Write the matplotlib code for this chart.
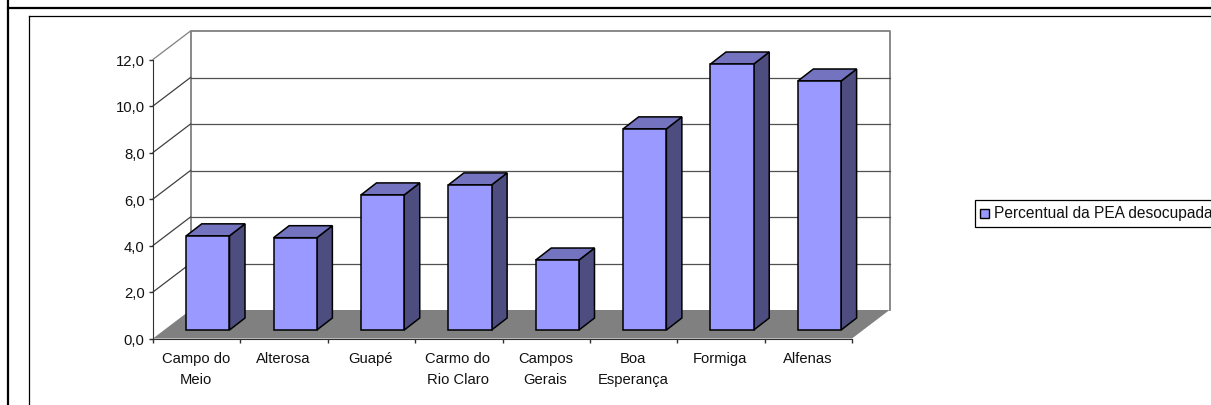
# Recreate the 3D style bar chart of unemployment percent by city
import matplotlib
matplotlib.use('Agg')
import matplotlib.pyplot as plt
from matplotlib.lines import Line2D
from matplotlib.patches import Rectangle

# Chart data
cities = ['Campo do\nMeio', 'Alterosa', 'Guapé', 'Carmo do\nRio Claro', 'Campos\nGerais',
          'Boa\nEsperança', 'Formiga', 'Alfenas']
percent = [4.05, 3.97, 5.81, 6.24, 3.01, 8.65, 11.44, 10.71]
y_ticks = [0, 2, 4, 6, 8, 10, 12]
series_name = 'Percentual da PEA desocupada'

# Colours
front_color = '#9999FF'
side_color = '#4D4D80'
top_color = '#7373BF'
floor_color = '#808080'
wall_color = '#808080'

W, H = 1211, 406
plt.rcParams['font.family'] = ['Liberation Sans', 'DejaVu Sans']
fig = plt.figure(figsize=(W / 100, H / 100), dpi=100)

# Axes placed so 0-8 and 0-12 land on the pixel positions of the front plane
left, right, bottom, top = 153, 852, 339.5, 60.5
ax = fig.add_axes([left / W, 1 - bottom / H, (right - left) / W, (bottom - top) / H])
ax.set_xlim(0, 8)
ax.set_ylim(0, 12)
ax.patch.set_visible(False)

# Depth of the box and of the bars, in data units
px_x = 8 / (right - left)
px_y = 12 / (bottom - top)
box_dx, box_dy = 37.5 * px_x, 28.5 * px_y
bar_dx, bar_dy = 15.5 * px_x, 12 * px_y
bar_shift_x, bar_shift_y = 11.4 * px_x, 8.5 * px_y
bar_width = 0.495

# Floor and back wall
ax.fill([0, 8, 8 + box_dx, box_dx], [0, 0, box_dy, box_dy], color=floor_color, lw=0, zorder=1, clip_on=False)
ax.plot([box_dx, box_dx, 8 + box_dx, 8 + box_dx], [box_dy, 12 + box_dy, 12 + box_dy, box_dy],
        color=wall_color, lw=1.3, zorder=2, clip_on=False)

# Gridlines on the side wall and the back wall
for t in y_ticks[1:]:
    ax.plot([0, box_dx], [t, t + box_dy], color='#404040' if t < 12 else wall_color, lw=0.9, zorder=2, clip_on=False)
    if t < 12:
        ax.plot([box_dx, 8 + box_dx], [t + box_dy, t + box_dy], color='#505050', lw=0.9, zorder=2, clip_on=False)

# Bars: front face through ax.bar, then the side and top faces
for i, value in enumerate(percent):
    x0 = i + 0.25 + bar_shift_x
    x1 = x0 + bar_width
    y0 = bar_shift_y
    y1 = y0 + value
    z = 3 + i
    ax.fill([x1, x1 + bar_dx, x1 + bar_dx, x1], [y0, y0 + bar_dy, y1 + bar_dy, y1],
            facecolor=side_color, edgecolor='black', lw=1.1, zorder=z, clip_on=False)
    ax.fill([x0, x1, x1 + bar_dx, x0 + bar_dx], [y1, y1, y1 + bar_dy, y1 + bar_dy],
            facecolor=top_color, edgecolor='black', lw=1.1, zorder=z, clip_on=False)
    ax.bar(x0, value, bottom=y0, width=bar_width, align='edge', color=front_color,
           edgecolor='black', lw=1.1, zorder=z, clip_on=False)

# Axis ticks and labels
ax.spines['top'].set_visible(False)
ax.spines['right'].set_visible(False)
ax.spines['left'].set_color('#303030')
ax.spines['bottom'].set_color('#303030')
ax.set_yticks(y_ticks)
ax.set_yticklabels([('%.1f' % t).replace('.', ',') for t in y_ticks])
ax.set_xticks(range(9))
ax.set_xticklabels([])
ax.set_xticks([i + 0.49 for i in range(8)], minor=True)
ax.set_xticklabels(cities, minor=True, linespacing=1.62)
ax.tick_params(axis='x', which='minor', length=0, labelsize=10.6, pad=9, colors='#111111')
ax.tick_params(axis='x', which='major', length=3, width=1, color='#303030')
ax.tick_params(axis='y', length=3, width=1, color='#303030', labelsize=10.7, pad=3, labelcolor='#111111')


# Helper to draw in image pixel positions
def px_line(x0, y0, x1, y1, lw):
    fig.add_artist(Line2D([x0 / W, x1 / W], [1 - y0 / H, 1 - y1 / H], color='black', lw=lw))


# Outer page frame and chart frame, both cut off by the image edge
px_line(8, 0, 8, H, 1.6)
px_line(8, 9, W, 9, 1.6)
px_line(29, 16.5, W, 16.5, 0.9)
px_line(29, 16.5, 29, H, 0.9)

# Legend box
fig.add_artist(Rectangle((974.5 / W, 1 - 228 / H), 300 / W, 27.5 / H, transform=fig.transFigure,
                         facecolor='white', edgecolor='black', lw=0.9))
fig.add_artist(Rectangle((980 / W, 1 - 219 / H), 8.5 / W, 9 / H, transform=fig.transFigure,
                         facecolor=front_color, edgecolor='black', lw=1))
fig.text(994.5 / W, 1 - 213.5 / H, series_name, fontsize=11.2, va='center', ha='left', color='#111111')

# Save the figure
fig.savefig('out.png', dpi=100, facecolor='white')
